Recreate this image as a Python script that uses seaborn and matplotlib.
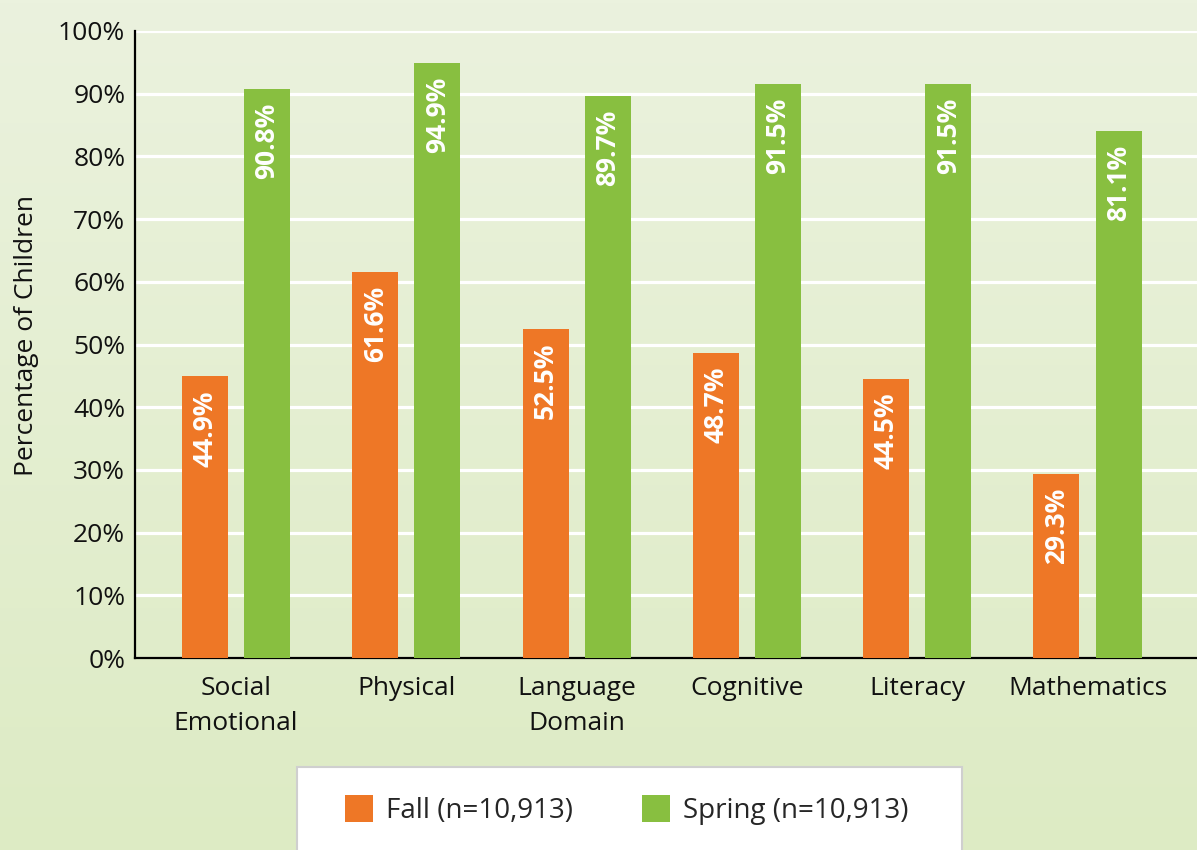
import numpy as np
import pandas as pd
import matplotlib.pyplot as plt
import seaborn as sns
from matplotlib.patches import Rectangle
from matplotlib.ticker import FuncFormatter

# data
domains = ['Social\nEmotional', 'Physical', 'Language\nDomain', 'Cognitive', 'Literacy', 'Mathematics']
fall = [44.9, 61.6, 52.5, 48.7, 44.5, 29.3]
# bar heights as drawn (the Mathematics spring bar is drawn at ~84 although labelled 81.1%)
spring = [90.8, 94.9, 89.7, 91.5, 91.5, 84.0]
fall_labels = ['44.9%', '61.6%', '52.5%', '48.7%', '44.5%', '29.3%']
spring_labels = ['90.8%', '94.9%', '89.7%', '91.5%', '91.5%', '81.1%']
seasons = ['Fall (n=10,913)', 'Spring (n=10,913)']
colors = ['#ee7726', '#88bf40']

df = pd.DataFrame({
    'domain': domains * 2,
    'season': [seasons[0]] * len(domains) + [seasons[1]] * len(domains),
    'pct': fall + spring,
})

sns.set_style('white')
plt.rcParams['font.family'] = ['Open Sans', 'DejaVu Sans']

W, H = 1197, 850
fig = plt.figure(figsize=(W / 100, H / 100), dpi=100)

# light green vertical gradient behind everything
bg = fig.add_axes([0, 0, 1, 1], zorder=-10)
top = np.array([235, 242, 222]) / 255
bot = np.array([221, 235, 196]) / 255
t = np.linspace(0, 1, 256)[:, None]
grad = (top * (1 - t) + bot * t)[:, None, :]
bg.imshow(grad, aspect='auto', extent=[0, 1, 0, 1])
bg.axis('off')

ax = fig.add_axes([135 / W, 1 - 658 / H, 1 - 135 / W, (658 - 31) / H])
ax.set_facecolor('none')

sns.barplot(data=df, x='domain', y='pct', hue='season', palette=colors,
            width=0.73, gap=0.26, saturation=1, linewidth=0, ax=ax, zorder=3)

ax.set_ylim(0, 100)
ax.set_xlim(-0.593, 5.643)
ax.set_yticks(range(0, 101, 10))
ax.yaxis.set_major_formatter(FuncFormatter(lambda v, p: f'{v:.0f}%'))
ax.grid(axis='y', color='white', linewidth=2.3, zorder=0)
ax.set_axisbelow(True)

for s in ['top', 'right']:
    ax.spines[s].set_visible(False)
for s in ['left', 'bottom']:
    ax.spines[s].set_color('black')
    ax.spines[s].set_linewidth(1.6)

ax.tick_params(axis='y', length=0, pad=7, labelsize=19, labelcolor='#111111')
ax.tick_params(axis='x', length=0, pad=13, labelsize=19, labelcolor='#111111')
for lbl in ax.get_xticklabels():
    lbl.set_linespacing(1.5)
ax.set_xlabel('')
ax.set_ylabel('Percentage of Children', fontsize=19, color='#111111')
ax.yaxis.set_label_coords(-0.09, 0.514)

for cont, labs in zip(ax.containers, [fall_labels, spring_labels]):
    anns = ax.bar_label(cont, labels=labs, label_type='edge', padding=-10,
                        rotation=90, color='white', fontweight='bold', fontsize=19)
    for a in anns:
        a.set_va('top')

# legend in a white box at the bottom
handles, labels = ax.get_legend_handles_labels()
if ax.get_legend() is not None:
    ax.get_legend().remove()
fig.patches.append(Rectangle((297 / W, -0.02), (962 - 297) / W, (850 - 767) / H + 0.02,
                             transform=fig.transFigure, facecolor='white',
                             edgecolor='#cfcfcf', linewidth=1.5, zorder=1))
fig.legend(handles, labels, loc='center', bbox_to_anchor=(627 / W, 1 - 810 / H),
           ncol=2, frameon=False, fontsize=20, handlelength=1.0, handleheight=1.15,
           handletextpad=0.47, columnspacing=2.5)

fig.savefig('out.png', dpi=100)
